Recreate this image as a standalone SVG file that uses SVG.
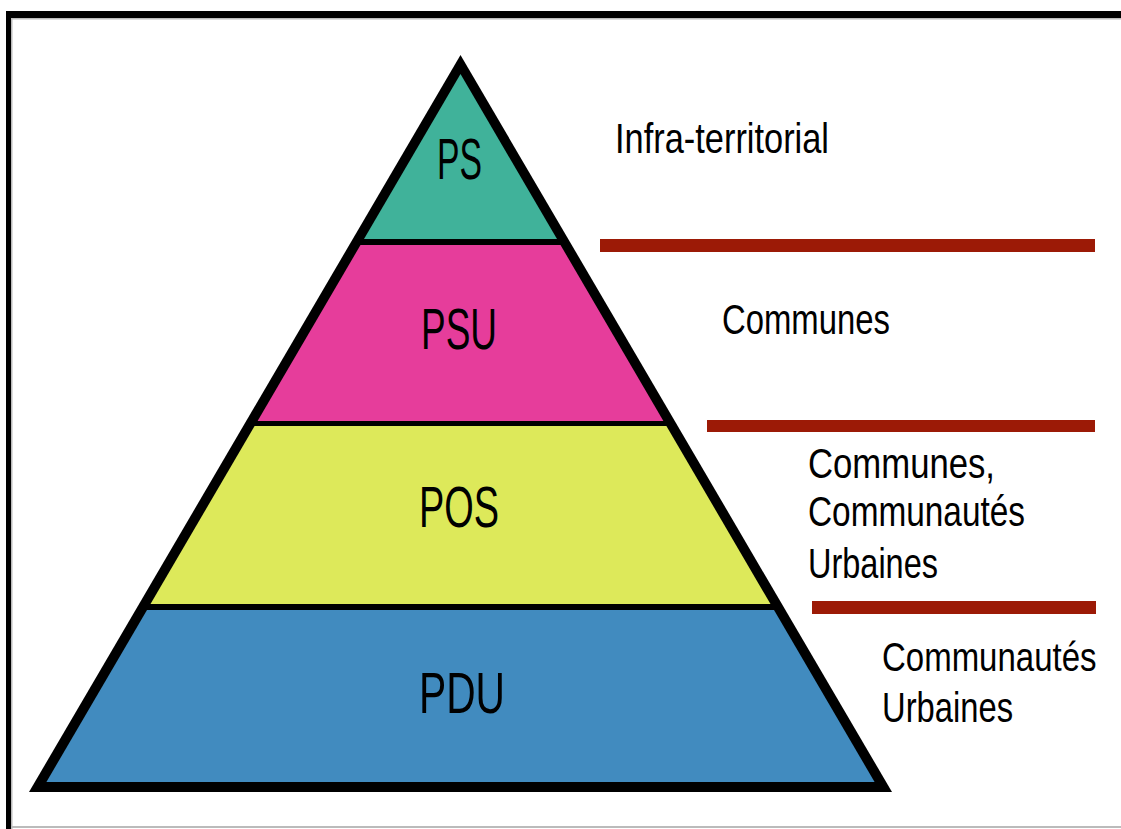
<svg xmlns="http://www.w3.org/2000/svg" width="1121" height="829" viewBox="0 0 1121 829">
<style>
.lvl{font-family:"Liberation Sans",Arial,sans-serif;font-size:58px;fill:#000;}
.lab{font-family:"Liberation Sans",Arial,sans-serif;font-size:42px;fill:#000;}
.sep{fill:#9c1a06;}
</style>
<rect x="0" y="0" width="1121" height="829" fill="#fff"/>
<g id="frame">
<rect x="6" y="11" width="1115" height="7" fill="#000"/>
<rect x="6" y="11" width="5" height="818" fill="#000"/>
<rect x="11" y="18" width="1110" height="1.5" fill="#bbb"/>
<rect x="11" y="18" width="1.5" height="811" fill="#bbb"/>
<rect x="11" y="826" width="1110" height="2" fill="#bbb"/>
</g>
<g id="pyramid-outline">
<polygon points="29,792 460.5,55 892,792" fill="#000"/>
</g>
<g id="PS">
<polygon points="460.5,74 557,239 364,239" fill="#40b29a"/>
<text class="lvl" x="437" y="179" textLength="45" lengthAdjust="spacingAndGlyphs">PS</text>
</g>
<g id="PSU">
<polygon points="360.5,245 560.5,245 663.4,421 257.6,421" fill="#e63d9b"/>
<text class="lvl" x="421" y="349" textLength="76" lengthAdjust="spacingAndGlyphs">PSU</text>
</g>
<g id="POS">
<polygon points="254.6,426 666.4,426 770.5,604 150.5,604" fill="#dde95a"/>
<text class="lvl" x="419" y="527" textLength="80" lengthAdjust="spacingAndGlyphs">POS</text>
</g>
<g id="PDU">
<polygon points="147,610 774,610 874.6,782 46.4,782" fill="#418bbf"/>
<text class="lvl" x="419" y="713" textLength="86" lengthAdjust="spacingAndGlyphs">PDU</text>
</g>
<g id="separators">
<rect class="sep" x="600" y="239" width="495" height="13"/>
<rect class="sep" x="707" y="420" width="388" height="12"/>
<rect class="sep" x="812" y="601" width="284" height="13"/>
</g>
<g id="label-infra">
<text class="lab" x="615" y="153" textLength="214" lengthAdjust="spacingAndGlyphs">Infra-territorial</text>
</g>
<g id="label-communes">
<text class="lab" x="722" y="334" textLength="168" lengthAdjust="spacingAndGlyphs">Communes</text>
</g>
<g id="label-communes-cu">
<text class="lab" x="808" y="478" textLength="187" lengthAdjust="spacingAndGlyphs">Communes,</text>
<text class="lab" x="808" y="526" textLength="217" lengthAdjust="spacingAndGlyphs">Communautés</text>
<text class="lab" x="808" y="578" textLength="130" lengthAdjust="spacingAndGlyphs">Urbaines</text>
</g>
<g id="label-cu">
<text transform="translate(882,671) scale(1,1.26)" x="0" y="0" style="font-family:'Liberation Sans',Arial,sans-serif;font-size:33px;fill:#000">Communautés</text>
<text class="lab" x="882" y="722" textLength="131" lengthAdjust="spacingAndGlyphs">Urbaines</text>
</g>
</svg>
